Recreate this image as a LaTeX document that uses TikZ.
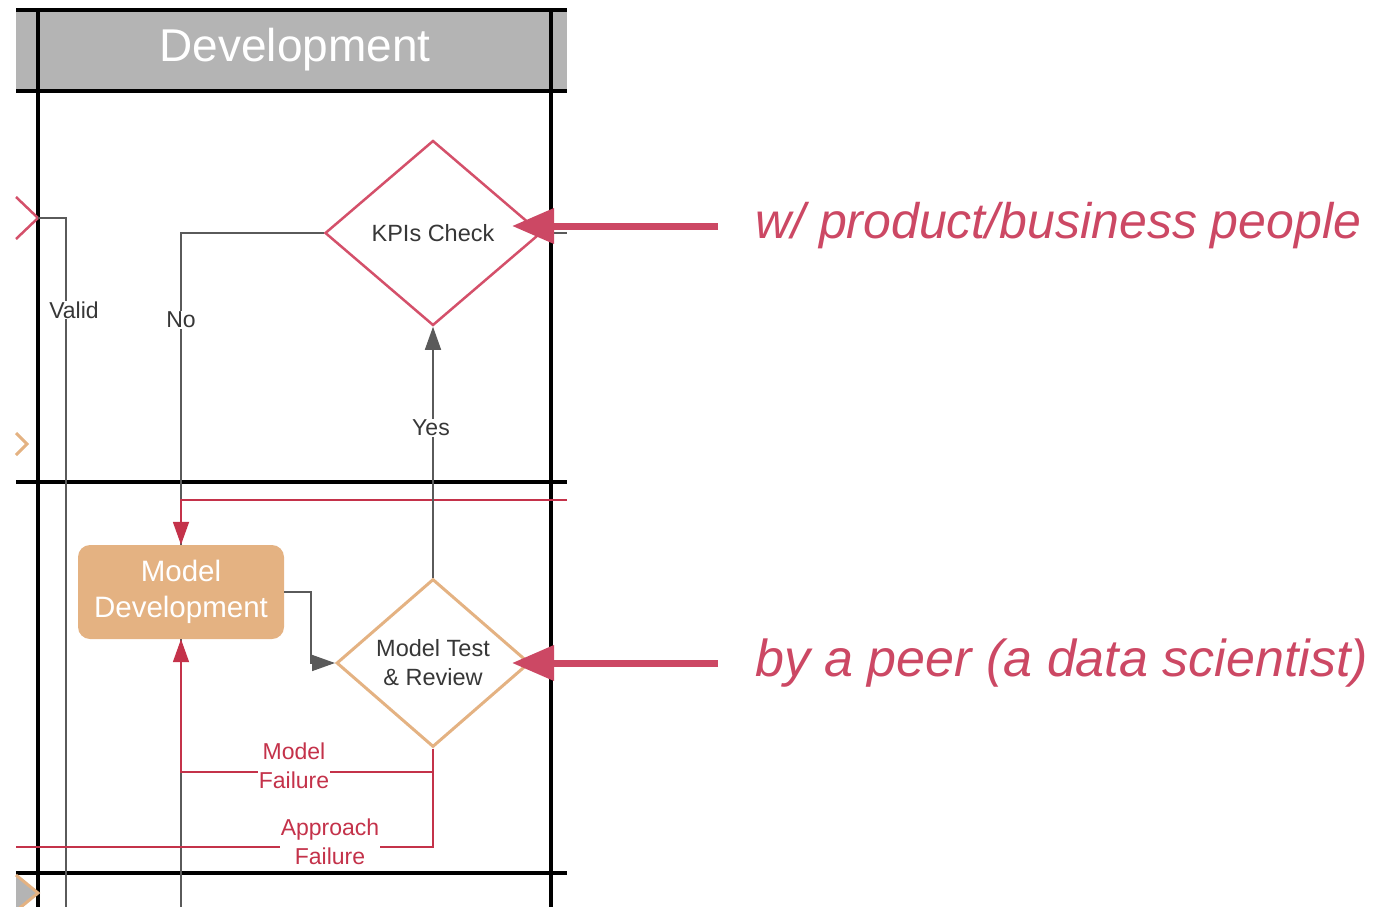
\documentclass[tikz,border=0pt]{standalone}
\usepackage{fontspec}
\setmainfont{Liberation Sans}
\usetikzlibrary{positioning, shapes.geometric, arrows.meta}
\definecolor{lanegray}{RGB}{180,180,180}
\definecolor{kpired}{RGB}{212,80,106}
\definecolor{flowred}{RGB}{196,50,74}
\definecolor{tan}{RGB}{228,178,130}
\definecolor{linegray}{RGB}{90,90,90}
\definecolor{textgray}{RGB}{55,55,55}
\definecolor{notered}{RGB}{204,72,100}

\begin{document}
\begin{tikzpicture}[x=1pt, y=-1pt,
  lane/.style={line width=4.5pt, black},
  flow/.style={line width=1.5pt, linegray},
  back/.style={line width=1.8pt, flowred},
  tip/.style={-{Triangle[length=23pt,width=16pt]}},
  lbl/.style={fill=white, inner sep=1pt, font=\fontsize{23}{29}\selectfont, align=center},
  note/.style={font=\fontsize{50}{55}\selectfont\itshape, text=notered, inner sep=0pt},
  pointer/.style={line width=7pt, notered, -{Triangle[length=42pt,width=34pt]}}]
\useasboundingbox (0,0) rectangle (1400,907);

\fill[lanegray] (16,12) rectangle (567,90);
\node[text=white, font=\fontsize{46}{50}\selectfont] (title) at (295,50) {Development};

\draw[lane] (16,10) -- (567,10);
\draw[lane] (16,91) -- (567,91);
\draw[lane] (16,482) -- (567,482);
\draw[lane] (16,873) -- (567,873);
\draw[lane] (38,10) -- (38,907);
\draw[lane] (551,10) -- (551,907);

\draw[kpired, line width=2.5pt] (16,197) -- (38,218) -- (16,239);
\draw[tan, line width=3pt] (16,433) -- (27,444) -- (16,455);
\filldraw[fill=lanegray, draw=tan, line width=3pt] (16,875) -- (38,893) -- (16,911);

\begin{scope}[every node/.style={font=\fontsize{23.5}{29}\selectfont, align=center, inner sep=0pt, text=textgray}]
    \node[diamond, draw=kpired, line width=2.5pt, fill=white, aspect=1.17,
          minimum width=216pt, minimum height=185pt] (kpi) at (433,233) {KPIs Check};
    \node[rectangle, rounded corners=12pt, fill=tan, text=white,
          minimum width=206pt, minimum height=94pt,
          font=\fontsize{29.5}{36}\selectfont] (md) at (181,592) {Model\\Development};
    \node[diamond, draw=tan, line width=3pt, fill=white, aspect=1.15,
          minimum width=193pt, minimum height=168pt] (mtr) at (433,663) {Model Test\\\& Review};
\end{scope}

\coordinate (vin) at (38,218);
\coordinate (vout) at (66,907);
\coordinate (redin) at (567,500);
\coordinate (kout) at (567,233);
\coordinate (mdin) at (181,907);
\coordinate (fail) at (300,772);
\coordinate (apout) at (16,847);

\draw[flow] (vin) -| (vout);
\draw[flow] (kpi.west) -| (md.north);
\draw[flow] (kpi.east) -- (kout);
\draw[flow] (mdin) -- (md.south);
\draw[back, tip] (redin) -| (md.north);
\draw[flow, tip] (mtr.north) -- (kpi.south);
\draw[flow, tip] (md.east) -- ++(27,0) |- (mtr.west);
\draw[back, tip] (mtr.south) |- (fail) -| (md.south);
\draw[back] (mtr.south) |- (apout);

\node[lbl, text=textgray] (valid) at (74,310) {Valid};
\node[lbl, text=textgray] (no) at (181,320) {No};
\node[lbl, text=textgray] (yes) at (431,428) {Yes};
\node[lbl, text=flowred] (mfl) at (294,766) {Model\\Failure};
\node[lbl, text=flowred] (afl) at (330,842) {Approach\\Failure};

\node[note, anchor=west] (who) at (755,226) {w/ product/business people};
\node[note, anchor=west, font=\fontsize{52}{57}\selectfont\itshape] (peer) at (755,663) {by a peer (a data scientist)};
\coordinate (p1) at (512,226);
\coordinate (p2) at (512,663);
\draw[pointer] ([xshift=-37pt]who.west) -- (p1);
\draw[pointer] ([xshift=-37pt]peer.west) -- (p2);
\end{tikzpicture}
\end{document}
